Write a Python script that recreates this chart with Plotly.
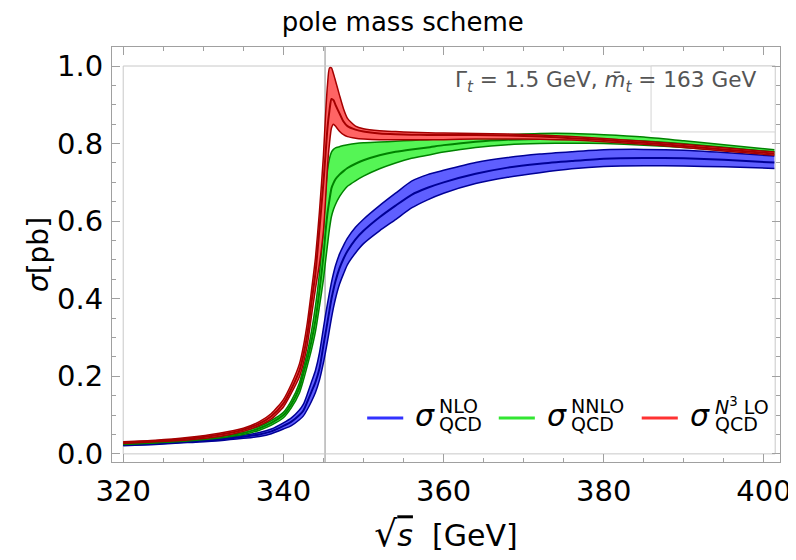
import plotly.graph_objects as go

# ---------------- data ----------------
sqrt_s = [320, 324, 328, 332, 335, 337, 338.5, 340, 341, 342, 342.5, 343, 343.5, 344,
          344.5, 345, 345.25, 345.5, 345.75, 346, 346.25, 346.5, 347, 347.5, 348, 349,
          350, 352, 354, 356, 358, 360, 364, 368, 372, 376, 380, 385, 390, 395, 401.3]

nlo_center = [0.023, 0.026, 0.031, 0.037, 0.044, 0.050, 0.058, 0.072, 0.083, 0.100, 0.112, 0.135, 0.160, 0.185,
              0.220, 0.280, 0.310, 0.340, 0.370, 0.400, 0.424, 0.445, 0.478, 0.503, 0.523, 0.553,
              0.575, 0.610, 0.640, 0.668, 0.686, 0.700, 0.722, 0.738, 0.748, 0.755, 0.761, 0.763, 0.762, 0.758, 0.751]
nlo_upper = [0.025, 0.028, 0.033, 0.040, 0.048, 0.055, 0.064, 0.080, 0.093, 0.113, 0.128, 0.155, 0.185, 0.215,
             0.260, 0.325, 0.357, 0.387, 0.415, 0.442, 0.465, 0.485, 0.515, 0.537, 0.556, 0.584,
             0.605, 0.640, 0.672, 0.703, 0.720, 0.731, 0.751, 0.764, 0.773, 0.779, 0.784, 0.785, 0.783, 0.777, 0.768]
nlo_lower = [0.021, 0.024, 0.029, 0.034, 0.040, 0.045, 0.052, 0.064, 0.073, 0.088, 0.098, 0.115, 0.135, 0.158,
             0.190, 0.235, 0.262, 0.290, 0.320, 0.350, 0.377, 0.400, 0.437, 0.464, 0.488, 0.518,
             0.542, 0.575, 0.604, 0.634, 0.655, 0.672, 0.697, 0.713, 0.725, 0.735, 0.741, 0.743, 0.742, 0.740, 0.736]

nnlo_center = [0.026, 0.030, 0.036, 0.045, 0.054, 0.066, 0.080, 0.100, 0.128, 0.170, 0.208, 0.245, 0.290, 0.345,
               0.420, 0.510, 0.570, 0.620, 0.655, 0.685, 0.698, 0.708, 0.720, 0.729, 0.737, 0.748,
               0.757, 0.770, 0.779, 0.785, 0.790, 0.796, 0.805, 0.810, 0.812, 0.813, 0.811, 0.806, 0.799, 0.790, 0.778]
nnlo_upper = [0.028, 0.032, 0.039, 0.049, 0.059, 0.071, 0.086, 0.107, 0.137, 0.183, 0.222, 0.262, 0.315, 0.380,
              0.465, 0.580, 0.670, 0.730, 0.761, 0.778, 0.785, 0.789, 0.792, 0.795, 0.797, 0.800,
              0.802, 0.804, 0.806, 0.808, 0.810, 0.813, 0.819, 0.823, 0.826, 0.826, 0.823, 0.817, 0.807, 0.797, 0.784]
nnlo_lower = [0.024, 0.028, 0.033, 0.041, 0.050, 0.061, 0.074, 0.093, 0.119, 0.157, 0.190, 0.228, 0.268, 0.315,
              0.380, 0.450, 0.495, 0.538, 0.580, 0.612, 0.630, 0.643, 0.663, 0.678, 0.690, 0.704,
              0.716, 0.735, 0.750, 0.762, 0.770, 0.778, 0.790, 0.797, 0.800, 0.801, 0.800, 0.796, 0.790, 0.782, 0.772]

n3lo_center = [0.029, 0.033, 0.039, 0.049, 0.062, 0.078, 0.097, 0.130, 0.168, 0.215, 0.255, 0.310, 0.390, 0.466,
               0.580, 0.700, 0.770, 0.840, 0.885, 0.915, 0.912, 0.900, 0.878, 0.857, 0.845, 0.836,
               0.831, 0.826, 0.824, 0.823, 0.822, 0.822, 0.822, 0.821, 0.818, 0.814, 0.809, 0.802, 0.794, 0.785, 0.774]
n3lo_upper = [0.031, 0.035, 0.042, 0.053, 0.066, 0.083, 0.104, 0.140, 0.180, 0.232, 0.278, 0.340, 0.420, 0.505,
              0.625, 0.770, 0.870, 0.950, 0.995, 0.995, 0.980, 0.962, 0.925, 0.890, 0.865, 0.845,
              0.838, 0.833, 0.831, 0.829, 0.828, 0.827, 0.826, 0.825, 0.822, 0.818, 0.813, 0.806, 0.798, 0.789, 0.778]
n3lo_lower = [0.027, 0.031, 0.036, 0.045, 0.058, 0.073, 0.090, 0.121, 0.157, 0.199, 0.234, 0.283, 0.355, 0.425,
              0.490, 0.575, 0.650, 0.740, 0.800, 0.840, 0.850, 0.845, 0.832, 0.823, 0.818, 0.814,
              0.812, 0.810, 0.810, 0.810, 0.810, 0.810, 0.812, 0.812, 0.811, 0.809, 0.805, 0.798, 0.790, 0.781, 0.770]

x_ticks = [320, 340, 360, 380, 400]
y_ticks = [0.0, 0.2, 0.4, 0.6, 0.8, 1.0]
threshold = 345.2
title_text = "pole mass scheme"
param_text = "Γ<sub><i>t</i></sub> = 1.5 GeV, <i>m̄</i><sub><i>t</i></sub> = 163 GeV"
legend_sup = ["NLO", "NNLO", "<i>N</i><sup>3</sup> LO"]

FONT = "DejaVu Sans"

series = [
    ("NLO", nlo_lower, nlo_upper, nlo_center, "rgba(95,95,255,1)", "rgb(0,0,150)", "rgb(50,50,255)"),
    ("NNLO", nnlo_lower, nnlo_upper, nnlo_center, "rgba(85,245,85,1)", "rgb(0,130,0)", "rgb(50,230,50)"),
    ("N3LO", n3lo_lower, n3lo_upper, n3lo_center, "rgba(255,100,100,1)", "rgb(165,0,0)", "rgb(255,50,50)"),
]

fig = go.Figure()
for name, lo, up, ce, fillc, edge, _ in series:
    fig.add_trace(go.Scatter(x=sqrt_s, y=lo, mode="lines", line=dict(color=edge, width=1.5, shape="spline", smoothing=0.6),
                             showlegend=False, hoverinfo="skip"))
    fig.add_trace(go.Scatter(x=sqrt_s, y=up, mode="lines", fill="tonexty", fillcolor=fillc,
                             line=dict(color=edge, width=1.5, shape="spline", smoothing=0.6),
                             showlegend=False, hoverinfo="skip"))
    fig.add_trace(go.Scatter(x=sqrt_s, y=ce, mode="lines", name=name,
                             line=dict(color=edge, width=2.0, shape="spline", smoothing=0.6),
                             showlegend=False))

# inner plot-range frame and threshold line
fig.add_shape(type="rect", xref="x", yref="y", x0=sqrt_s[0], x1=sqrt_s[-1] + 0.1, y0=0, y1=1.0,
              line=dict(color="#c8c8c8", width=1), layer="below")
fig.add_shape(type="line", xref="x", yref="paper", x0=threshold, x1=threshold, y0=0, y1=1,
              line=dict(color="#b4b4b4", width=1.5), layer="below")
# parameter box
fig.add_shape(type="rect", xref="x", yref="y", x0=385.9, x1=sqrt_s[-1] + 0.1, y0=0.83, y1=1.0,
              line=dict(color="#d4d4d4", width=1), fillcolor="white", layer="below")
fig.add_annotation(x=399.3, y=0.96, xref="x", yref="y", xanchor="right", yanchor="middle",
                   text=param_text, showarrow=False, font=dict(family=FONT, size=21.6, color="#555555"))

# manual legend (stacked super/subscripts)
leg_line_x = [(0.382, 0.436), (0.579, 0.633), (0.793, 0.847)]
leg_sigma_x = [0.469, 0.666, 0.880]
leg_text_x = [0.487, 0.684, 0.900]
for i, (name, lo, up, ce, fillc, edge, legc) in enumerate(series):
    x0, x1 = leg_line_x[i]
    fig.add_shape(type="line", xref="paper", yref="paper", x0=x0, x1=x1, y0=0.106, y1=0.106,
                  line=dict(color=legc, width=3))
    fig.add_annotation(x=leg_sigma_x[i], y=0.112, xref="paper", yref="paper", xanchor="center", yanchor="middle",
                       text="<i>σ</i>", showarrow=False, font=dict(family=FONT, size=30, color="black"))
    fig.add_annotation(x=leg_text_x[i], y=0.136, xref="paper", yref="paper", xanchor="left", yanchor="middle",
                       text=legend_sup[i], showarrow=False, font=dict(family=FONT, size=19, color="black"))
    fig.add_annotation(x=leg_text_x[i], y=0.092, xref="paper", yref="paper", xanchor="left", yanchor="middle",
                       text="QCD", showarrow=False, font=dict(family=FONT, size=19, color="black"))

axis_common = dict(showline=True, linecolor="#a0a0a0", linewidth=1, mirror="allticks",
                   ticks="inside", ticklen=8, tickcolor="#a0a0a0", tickwidth=1,
                   showgrid=False, zeroline=False,
                   tickfont=dict(family=FONT, size=29, color="black"))

x_title = ("<span style='font-size:36px'>√</span><span style='text-decoration:overline'><i>s</i></span>"
           "  [GeV]")
fig.update_xaxes(range=[318.6, 402.0], tickvals=x_ticks, ticklabelstandoff=3,
                 minor=dict(dtick=5, ticks="inside", ticklen=4, tickcolor="#a0a0a0", showgrid=False),
                 title=dict(text=x_title, font=dict(family=FONT, size=30, color="black"), standoff=18),
                 **axis_common)
fig.update_yaxes(range=[-0.021, 1.049], tickvals=y_ticks, tickformat=".1f", ticklabelstandoff=2,
                 minor=dict(dtick=0.05, ticks="inside", ticklen=4, tickcolor="#a0a0a0", showgrid=False),
                 title=dict(text="<i>σ</i>[pb]", font=dict(family=FONT, size=28, color="black"), standoff=0),
                 **axis_common)

# the page body adds an 8px margin, so the figure is 8px smaller and margins are shifted
fig.update_layout(
    width=788, height=552,
    margin=dict(l=104, r=16, t=39, b=98, autoexpand=False),
    paper_bgcolor="white", plot_bgcolor="white",
    title=dict(text=title_text, x=0.501, xref="container", y=0.975, yref="container",
               xanchor="center", yanchor="middle", font=dict(family=FONT, size=26, color="black")),
    showlegend=False,
)

fig.write_html("out.html")
